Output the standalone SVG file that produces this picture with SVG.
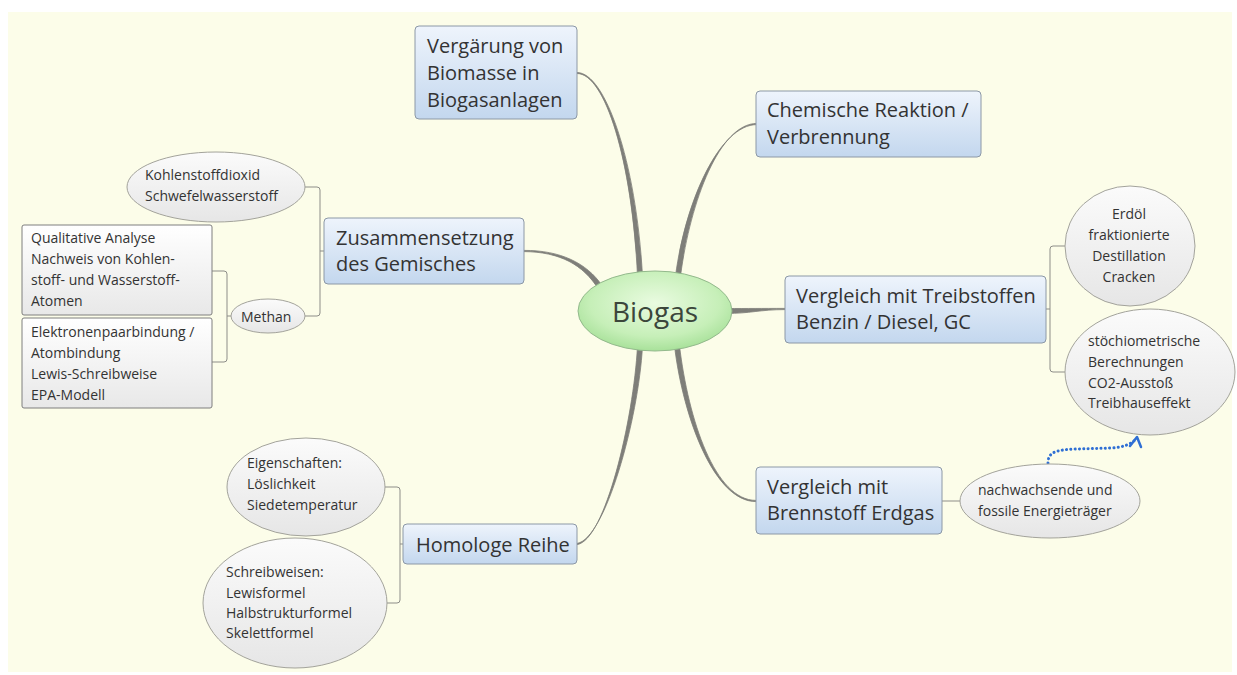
<svg xmlns="http://www.w3.org/2000/svg" width="1237" height="675" viewBox="0 0 1237 675">
<defs>
<linearGradient id="gBlue" x1="0" y1="0" x2="0" y2="1">
<stop offset="0" stop-color="#eef4fc"/><stop offset="1" stop-color="#c3d7ee"/>
</linearGradient>
<linearGradient id="gGray" x1="0" y1="0" x2="0" y2="1">
<stop offset="0" stop-color="#ffffff"/><stop offset="1" stop-color="#e8e8e8"/>
</linearGradient>
<linearGradient id="gEll" x1="0" y1="0" x2="0" y2="1">
<stop offset="0" stop-color="#fbfbfb"/><stop offset="1" stop-color="#e6e6e6"/>
</linearGradient>
<radialGradient id="gGreen" cx="0.5" cy="0.4" r="0.6">
<stop offset="0" stop-color="#e9fbe0"/><stop offset="0.7" stop-color="#c6efb8"/><stop offset="1" stop-color="#a8e19a"/>
</radialGradient>
</defs>
<style>
.bg{fill:#fcfde9}
.box{fill:url(#gBlue);stroke:#8c98a6;stroke-width:1}
.gbox{fill:url(#gGray);stroke:#7e7e7e;stroke-width:1}
.ell{fill:url(#gEll);stroke:#a3a39b;stroke-width:1}
.main{fill:url(#gGreen);stroke:#93b98c;stroke-width:1}
.t{font-family:"Open Sans","Noto Sans","Liberation Sans",sans-serif;fill:#333}
.big{font-size:20px}
.sm{font-size:14px}
.root{font-size:28px;fill:#3b463b}
.br{fill:#7e7e79;stroke:#7e7e79;stroke-width:0.8;stroke-linejoin:round}
.tree{fill:none;stroke:#8d8d88;stroke-width:1}
.dot{fill:none;stroke:#2f6fd4;stroke-width:3;stroke-dasharray:0.1 4.2;stroke-linecap:round}
.ah{fill:none;stroke:#2f6fd4;stroke-width:2.5;stroke-linecap:round;stroke-linejoin:round}
</style>
<rect x="0" y="0" width="1237" height="675" fill="#ffffff"/>
<rect class="bg" x="8" y="12" width="1224" height="660"/>

<g id="connectors">
<path class="br" d="M577,72.5 C605,72.5 636,160 642.5,276 L637.5,276 C632,160 605,73.5 577,73.5 Z"/>
<path class="br" d="M757,123.4 C720,123.4 690.5,200 680.5,276 L675.5,276 C685.5,200 720,124.6 757,124.6 Z"/>
<path class="br" d="M524,250.4 C560,250.2 586.7,262.9 602.1,285.6 L597.9,288.4 C583.3,265.1 560,251.8 524,251.6 Z"/>
<path class="br" d="M785,308.4 C760,308.4 750,308.5 726,308.5 L726,313.5 C750,313.5 760,309.6 785,309.6 Z"/>
<path class="br" d="M756,500.4 C715,500.4 688.5,420 679.5,346 L674.5,346 C683.5,420 715,501.6 756,501.6 Z"/>
<path class="br" d="M577,543.4 C605,539.4 638.5,420 642.5,346 L637.5,346 C633.5,420 605,540.6 577,544.6 Z"/>
<path class="tree" d="M324,251 H320 M305,187 H317 Q320,187 320,190 V313 Q320,316 317,316 H305"/>
<path class="tree" d="M231,316 H227 M212,271 H224 Q227,271 227,274 V359 Q227,362 224,362 H212"/>
<path class="tree" d="M1046,309 H1050 M1065,246 H1053 Q1050,246 1050,249 V369 Q1050,372 1053,372 H1065"/>
<path class="tree" d="M403,544 H400 M385,487 H397 Q400,487 400,490 V600 Q400,603 397,603 H387"/>
<path class="tree" d="M942,501 H960"/>
<path class="dot" d="M1048,463 C1048,452 1056,450 1075,449 L1112,448 C1124,447 1131,444 1135,440"/>
<path class="ah" d="M1130,446 L1137,437 L1141,447"/>
</g>

<g id="biogas">
<ellipse class="main" cx="655" cy="311" rx="77" ry="40"/>
<text class="t root" x="655" y="322" text-anchor="middle">Biogas</text>
</g>

<g id="vergaerung">
<rect class="box" x="415" y="26" width="162" height="93" rx="4"/>
<text class="t big" x="427" y="53">Vergärung von</text>
<text class="t big" x="427" y="80">Biomasse in</text>
<text class="t big" x="427" y="107">Biogasanlagen</text>
</g>

<g id="chemische">
<rect class="box" x="756" y="91" width="225" height="66" rx="4"/>
<text class="t big" x="767" y="117">Chemische Reaktion /</text>
<text class="t big" x="767" y="144">Verbrennung</text>
</g>

<g id="zusammensetzung">
<rect class="box" x="324" y="218" width="200" height="66" rx="4"/>
<text class="t big" x="336" y="245">Zusammensetzung</text>
<text class="t big" x="336" y="271">des Gemisches</text>
</g>

<g id="kohlenstoff">
<ellipse class="ell" cx="216" cy="187" rx="89" ry="35"/>
<text class="t sm" x="145" y="180">Kohlenstoffdioxid</text>
<text class="t sm" x="145" y="201">Schwefelwasserstoff</text>
</g>

<g id="methan">
<ellipse class="ell" cx="268" cy="316" rx="37" ry="17"/>
<text class="t sm" x="241" y="322">Methan</text>
</g>

<g id="qualitative">
<rect class="gbox" x="22" y="225" width="190" height="90" rx="2"/>
<text class="t sm" x="31" y="243">Qualitative Analyse</text>
<text class="t sm" x="31" y="264">Nachweis von Kohlen-</text>
<text class="t sm" x="31" y="285">stoff- und Wasserstoff-</text>
<text class="t sm" x="31" y="306">Atomen</text>
</g>

<g id="elektronen">
<rect class="gbox" x="22" y="318" width="190" height="90" rx="2"/>
<text class="t sm" x="31" y="337">Elektronenpaarbindung /</text>
<text class="t sm" x="31" y="358">Atombindung</text>
<text class="t sm" x="31" y="379">Lewis-Schreibweise</text>
<text class="t sm" x="31" y="400">EPA-Modell</text>
</g>

<g id="treibstoffe">
<rect class="box" x="785" y="276" width="261" height="67" rx="4"/>
<text class="t big" x="796" y="303">Vergleich mit Treibstoffen</text>
<text class="t big" x="796" y="329">Benzin / Diesel, GC</text>
</g>

<g id="erdoel">
<ellipse class="ell" cx="1130" cy="246" rx="65" ry="60"/>
<text class="t sm" x="1129" y="219" text-anchor="middle">Erdöl</text>
<text class="t sm" x="1129" y="240" text-anchor="middle">fraktionierte</text>
<text class="t sm" x="1129" y="261" text-anchor="middle">Destillation</text>
<text class="t sm" x="1129" y="282" text-anchor="middle">Cracken</text>
</g>

<g id="stoechio">
<ellipse class="ell" cx="1150" cy="372" rx="85" ry="63"/>
<text class="t sm" x="1088" y="346">stöchiometrische</text>
<text class="t sm" x="1088" y="367">Berechnungen</text>
<text class="t sm" x="1088" y="388">CO2-Ausstoß</text>
<text class="t sm" x="1088" y="408">Treibhauseffekt</text>
</g>

<g id="erdgas">
<rect class="box" x="756" y="467" width="186" height="67" rx="4"/>
<text class="t big" x="767" y="494">Vergleich mit</text>
<text class="t big" x="767" y="520">Brennstoff Erdgas</text>
</g>

<g id="nachwachsende">
<ellipse class="ell" cx="1050" cy="501" rx="90" ry="37"/>
<text class="t sm" x="978" y="495">nachwachsende und</text>
<text class="t sm" x="978" y="516">fossile Energieträger</text>
</g>

<g id="homologe">
<rect class="box" x="403" y="524" width="174" height="40" rx="4"/>
<text class="t big" x="416" y="552">Homologe Reihe</text>
</g>

<g id="eigenschaften">
<ellipse class="ell" cx="306" cy="487" rx="79" ry="49"/>
<text class="t sm" x="247" y="468">Eigenschaften:</text>
<text class="t sm" x="247" y="489">Löslichkeit</text>
<text class="t sm" x="247" y="510">Siedetemperatur</text>
</g>

<g id="schreibweisen">
<ellipse class="ell" cx="295" cy="603" rx="92" ry="65"/>
<text class="t sm" x="226" y="577">Schreibweisen:</text>
<text class="t sm" x="226" y="598">Lewisformel</text>
<text class="t sm" x="226" y="618">Halbstrukturformel</text>
<text class="t sm" x="226" y="638">Skelettformel</text>
</g>
</svg>
